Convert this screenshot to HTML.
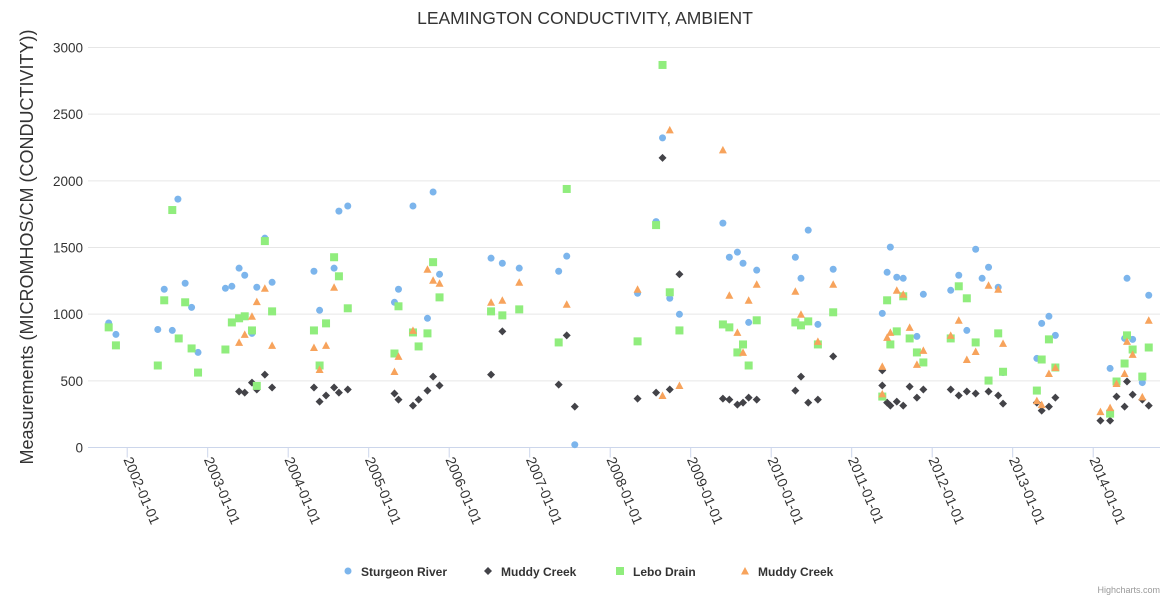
<!DOCTYPE html>
<html><head><meta charset="utf-8"><style>
html,body{margin:0;padding:0;background:#fff;}
svg{display:block;font-family:"Liberation Sans",sans-serif;}
</style></head><body>
<svg id="chart" width="1170" height="600" xmlns="http://www.w3.org/2000/svg">
<text x="585" y="24" text-anchor="middle" font-size="17.5" fill="#333">LEAMINGTON CONDUCTIVITY, AMBIENT</text>
<text transform="translate(33,247) rotate(-90)" text-anchor="middle" font-size="18" fill="#333">Measurements (MICROMHOS/CM (CONDUCTIVITY))</text>
<g id="grid"></g><g id="xaxis"></g><g id="series"></g>
<g id="legend" font-size="12" font-weight="bold" fill="#333"></g>
<text x="1160" y="593" text-anchor="end" font-size="9" fill="#999">Highcharts.com</text>
</svg>
<script>
const yTicks=[0,500,1000,1500,2000,2500,3000];
const xTickYears=[2002,2003,2004,2005,2006,2007,2008,2009,2010,2011,2012,2013,2014];
const seriesNames=["Sturgeon River","Muddy Creek","Lebo Drain","Muddy Creek"];
const sturgeonX=[2001.77,2001.86,2002.38,2002.46,2002.56,2002.63,2002.72,2002.80,2002.88,2003.22,2003.30,2003.39,2003.46,2003.55,2003.61,2003.71,2003.80,2004.32,2004.39,2004.57,2004.63,2004.74,2005.32,2005.37,2005.55,2005.73,2005.80,2005.88,2006.52,2006.66,2006.87,2007.36,2007.46,2007.56,2008.34,2008.57,2008.65,2008.74,2008.86,2009.40,2009.48,2009.58,2009.65,2009.72,2009.82,2010.30,2010.37,2010.46,2010.58,2010.77,2011.38,2011.44,2011.48,2011.56,2011.64,2011.81,2011.89,2012.23,2012.33,2012.43,2012.54,2012.62,2012.70,2012.82,2012.88,2013.30,2013.36,2013.45,2013.53,2014.21,2014.39,2014.42,2014.49,2014.61,2014.69];
const sturgeonY=[934,848,885,1187,878,1863,1232,1051,713,1194,1209,1345,1292,856,1202,1570,1239,1322,1029,1345,1773,1811,1089,1187,1811,969,1916,1299,1420,1382,1345,1322,1435,21,1157,1694,2322,1119,999,1683,1427,1465,1382,938,1330,1427,1269,1630,923,1337,1006,1314,1503,1277,1269,833,1149,1179,1292,878,1487,1269,1352,1202,562,668,931,984,841,593,818,1269,811,487,1142];
const muddyAX=[2003.39,2003.46,2003.55,2003.61,2003.71,2003.80,2004.32,2004.39,2004.47,2004.57,2004.63,2004.74,2005.32,2005.37,2005.55,2005.62,2005.73,2005.80,2005.88,2006.52,2006.66,2007.36,2007.46,2007.56,2008.34,2008.57,2008.65,2008.74,2008.86,2009.40,2009.48,2009.58,2009.65,2009.72,2009.82,2010.30,2010.37,2010.46,2010.58,2010.77,2011.38,2011.38,2011.44,2011.48,2011.56,2011.64,2011.72,2011.81,2011.89,2012.23,2012.33,2012.43,2012.54,2012.70,2012.82,2012.88,2013.30,2013.36,2013.45,2013.53,2014.09,2014.21,2014.29,2014.39,2014.42,2014.49,2014.61,2014.69];
const muddyAY=[420,412,487,435,547,450,450,344,390,450,412,435,405,359,314,359,427,532,465,547,871,472,841,307,367,412,2172,435,1299,367,359,322,337,374,359,427,532,337,359,683,578,465,337,314,344,314,457,374,435,435,390,420,405,420,390,329,337,277,307,374,202,202,382,307,495,397,359,314];
const leboX=[2001.77,2001.86,2002.38,2002.46,2002.56,2002.64,2002.72,2002.80,2002.88,2003.22,2003.30,2003.39,2003.46,2003.55,2003.61,2003.71,2003.80,2004.32,2004.39,2004.47,2004.57,2004.63,2004.74,2005.32,2005.37,2005.55,2005.62,2005.73,2005.80,2005.88,2006.52,2006.66,2006.87,2007.36,2007.46,2008.34,2008.57,2008.65,2008.74,2008.86,2009.40,2009.48,2009.58,2009.65,2009.72,2009.82,2010.30,2010.37,2010.46,2010.58,2010.77,2011.38,2011.44,2011.48,2011.56,2011.64,2011.72,2011.81,2011.89,2012.23,2012.33,2012.43,2012.54,2012.70,2012.82,2012.88,2013.30,2013.36,2013.45,2013.53,2014.21,2014.29,2014.39,2014.42,2014.49,2014.61,2014.69];
const leboY=[901,766,615,1104,1781,818,1089,743,562,735,938,969,984,878,462,1548,1021,878,615,931,1427,1284,1044,705,1059,863,758,856,1390,1126,1021,991,1036,788,1939,796,1668,2869,1164,878,923,901,713,773,615,954,938,916,946,773,1014,382,1104,773,871,1134,818,713,638,818,1209,1119,788,502,856,568,427,660,811,600,254,495,630,841,735,532,750];
const muddyBX=[2003.39,2003.46,2003.55,2003.61,2003.71,2003.80,2004.32,2004.39,2004.47,2004.57,2005.32,2005.37,2005.55,2005.73,2005.80,2005.88,2006.52,2006.66,2006.87,2007.46,2008.34,2008.65,2008.74,2008.86,2009.40,2009.48,2009.58,2009.65,2009.72,2009.82,2010.30,2010.37,2010.58,2010.77,2011.38,2011.38,2011.44,2011.48,2011.56,2011.64,2011.72,2011.81,2011.89,2012.23,2012.33,2012.43,2012.54,2012.70,2012.82,2012.88,2013.30,2013.36,2013.45,2013.53,2014.09,2014.21,2014.29,2014.39,2014.42,2014.49,2014.61,2014.69];
const muddyBY=[788,848,984,1094,1194,766,750,585,766,1202,570,683,878,1337,1254,1232,1089,1104,1239,1074,1187,390,2382,465,2232,1142,863,713,1104,1224,1172,999,796,1224,608,402,826,863,1179,1149,901,623,728,841,954,660,720,1217,1187,781,352,322,555,600,269,299,480,555,796,698,380,954];

const NS="http://www.w3.org/2000/svg";
const L=88,R=1160,T=47.5,B=447.5;
function xs(yr){return 127.2+(yr-2002)*80.5;}
function ys(v){return B-(v/3000)*(B-T);}
function mk(tag,attrs,parent){const e=document.createElementNS(NS,tag);for(const k in attrs)e.setAttribute(k,attrs[k]);parent.appendChild(e);return e;}
const grid=document.getElementById('grid');
yTicks.forEach(v=>{
  if(v>0){const gl=mk('line',{x1:L,x2:R,y1:ys(v),y2:ys(v),stroke:'#e6e6e6'},grid);
  
  }
  const t=mk('text',{x:83,y:ys(v)+5,'text-anchor':'end','font-size':'13.5',fill:'#333'},grid);t.textContent=v;
  
  
});
const xa=document.getElementById('xaxis');
const axl=mk('line',{x1:L,x2:R,y1:B,y2:B,stroke:'#ccd6eb'},xa);


xTickYears.forEach(y=>{
  const x=xs(y);
  const tk=mk('line',{x1:x,x2:x,y1:B,y2:B+10,stroke:'#ccd6eb'},xa);
  
  
  const t=mk('text',{x:0,y:0,transform:`translate(${x-4},${B+12}) rotate(67)`,'font-size':'14',fill:'#333'},xa);
  t.textContent=y+'-01-01';
  
  
});
const sg=document.getElementById('series');
function marker(kind,x,y,g){
  let e;
  if(kind===0)e=mk('circle',{cx:x,cy:y,r:3.5,fill:'#7cb5ec'},g);
  else if(kind===1)e=mk('path',{d:`M${x},${y-4}L${x+4},${y}L${x},${y+4}L${x-4},${y}Z`,fill:'#434348'},g);
  else if(kind===2)e=mk('rect',{x:x-4,y:y-4,width:8,height:8,fill:'#90ed7d'},g);
  else e=mk('path',{d:`M${x},${y-4}L${x+4},${y+3.5}L${x-4},${y+3.5}Z`,fill:'#f7a35c'},g);
  return e;
}
const sets=[[sturgeonX,sturgeonY,'sturgeon-river'],[muddyAX,muddyAY,'muddy-creek'],[leboX,leboY,'lebo-drain'],[muddyBX,muddyBY,'muddy-creek-2']];
sets.forEach((s,i)=>{
  const g=mk('g',{},sg);
  
  
  s[0].forEach((xv,j)=>{
    const p=marker(i,xs(xv),ys(s[1][j]),g);
    
    
  });
});
const lg=document.getElementById('legend');
const lx=[344,484,616,741];
seriesNames.forEach((n,i)=>{
  const g=mk('g',{},lg);
  
  
  marker(i,lx[i]+4,571,g);
  const t=mk('text',{x:lx[i]+17,y:576},g);t.textContent=n;
});
</script>
</body></html>
